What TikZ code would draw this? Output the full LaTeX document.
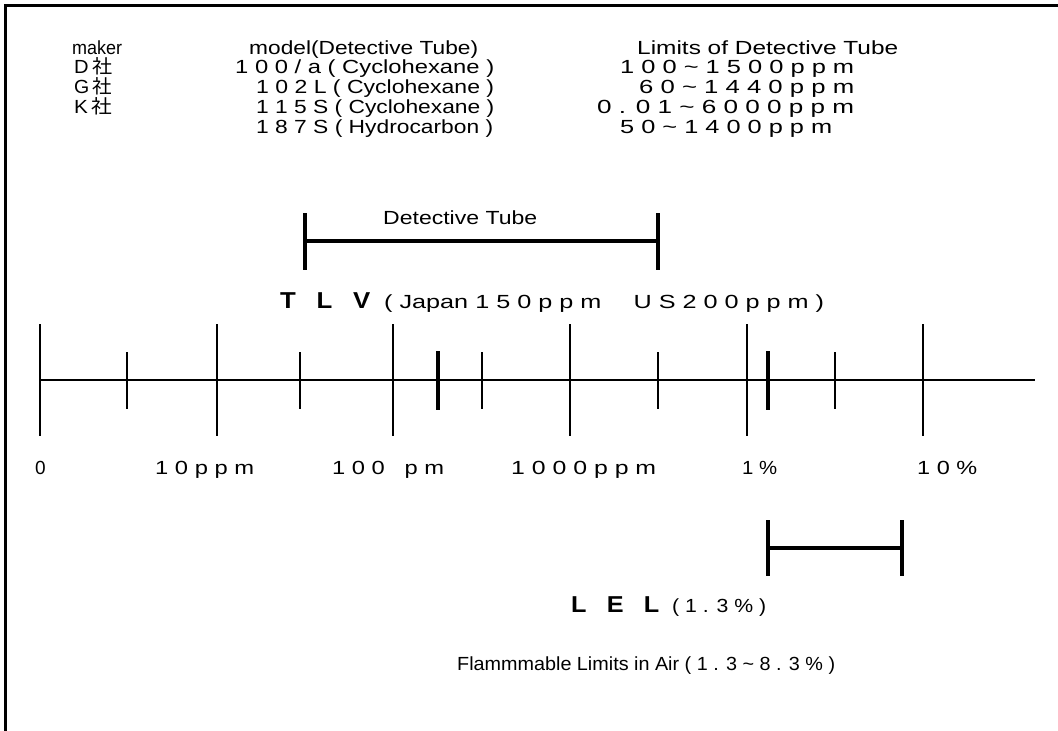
\documentclass[tikz,border=0pt]{standalone}
\usepackage{fontspec}
\usepackage{graphicx}
\setmainfont{Liberation Sans}
\newfontfamily\cjk{Noto Sans CJK JP}
\newcommand{\fw}[2]{\resizebox{#1pt}{\height}{#2}}
\newcommand{\tld}{\textasciitilde}
\begin{document}
\begin{tikzpicture}[x=1pt,y=-1pt,
  txt/.style={inner sep=0pt,anchor=base west,font=\fontsize{19}{19}\selectfont},
  big/.style={inner sep=0pt,anchor=base west,font=\fontsize{23}{23}\selectfont\bfseries},
  axisline/.style={line width=2.5pt},
  majortick/.style={line width=2.5pt},
  minortick/.style={line width=2.5pt},
  thicktick/.style={line width=4.5pt},
  bracket/.style={line width=4pt},
  frameline/.style={line width=3pt}]
\useasboundingbox (0,0) rectangle (1058,731);
% frame
\coordinate (fTL) at (5,5);
\coordinate (fTR) at (1058,5);
\coordinate (fBL) at (5,731);
\draw[frameline] (fTR) -- (fTL) -- (fBL);
% header table
\node[txt] (hmaker) at (72,54) {\fw{50}{maker}};
\node[txt] (hmodel) at (249,54) {\fw{229}{model(Detective Tube)}};
\node[txt] (hlim) at (637,54) {\fw{261}{Limits of Detective Tube}};
\node[txt] (mkD) at (74,73) {\fw{38}{D\,{\cjk 社}}};
\node[txt] (mkG) at (74,93) {\fw{38}{G\,{\cjk 社}}};
\node[txt] (mkK) at (74,113) {\fw{38}{K\,{\cjk 社}}};
\node[txt] (md1) at (235,73) {\fw{259}{1 0 0 / a ( Cyclohexane )}};
\node[txt] (md2) at (256,93) {\fw{238}{1 0 2 L ( Cyclohexane )}};
\node[txt] (md3) at (256,113) {\fw{238}{1 1 5 S ( Cyclohexane )}};
\node[txt] (md4) at (256,133) {\fw{237}{1 8 7 S ( Hydrocarbon )}};
\node[txt] (lm1) at (620,73) {\fw{234}{1 0 0 \tld{} 1 5 0 0 p p m}};
\node[txt] (lm2) at (639,93) {\fw{215}{6 0 \tld{} 1 4 4 0 p p m}};
\node[txt] (lm3) at (597,113) {\fw{257}{0 . 0 1 \tld{} 6 0 0 0 p p m}};
\node[txt] (lm4) at (620,133) {\fw{212}{5 0 \tld{} 1 4 0 0 p p m}};
% detective tube bracket
\coordinate (dtL) at (305,241);
\coordinate (dtR) at (658,241);
\coordinate (dtLt) at (305,213);
\coordinate (dtLb) at (305,270);
\coordinate (dtRt) at (658,213);
\coordinate (dtRb) at (658,270);
\draw[bracket] (dtL) -- (dtR);
\draw[bracket] (dtLt) -- (dtLb);
\draw[bracket] (dtRt) -- (dtRb);
\node[txt] (dtlabel) at (383,224) {\fw{154}{Detective Tube}};
% TLV
\node[big] (tlv) at (280,308) {\fw{90}{T\hspace{0.8em}L\hspace{0.8em}V}};
\node[txt] (tlvval) at (384,308) {\fw{440}{( Japan 1 5 0 p p m \quad U S 2 0 0 p p m )}};
% axis
\coordinate (axL) at (40,380);
\coordinate (axR) at (1035,380);
\draw[axisline] (axL) -- (axR);
\foreach \xx in {40,217,393,570,747,923}{
  \draw[majortick] (\xx,324) -- (\xx,436);}
\foreach \xx in {127,300,482,658,835}{
  \draw[minortick] (\xx,352) -- (\xx,409);}
\foreach \xx in {438,768}{
  \draw[thicktick] (\xx,351) -- (\xx,410);}
% axis labels
\node[txt] (l0) at (35,474) {0};
\node[txt] (l10) at (155,474) {\fw{99}{1 0 p p m}};
\node[txt] (l100) at (332,474) {\fw{112}{1 0 0 \ \ p m}};
\node[txt] (l1000) at (511,474) {\fw{145}{1 0 0 0 p p m}};
\node[txt] (l1p) at (742,474) {\fw{35}{1 \%}};
\node[txt] (l10p) at (917,474) {\fw{60}{1 0 \%}};
% LEL bracket
\coordinate (lbL) at (768,548);
\coordinate (lbR) at (902,548);
\coordinate (lbLt) at (768,520);
\coordinate (lbLb) at (768,576);
\coordinate (lbRt) at (902,520);
\coordinate (lbRb) at (902,576);
\draw[bracket] (lbL) -- (lbR);
\draw[bracket] (lbLt) -- (lbLb);
\draw[bracket] (lbRt) -- (lbRb);
\node[big] (lel) at (571,612) {\fw{88}{L\hspace{0.8em}E\hspace{0.8em}L}};
\node[txt] (lelval) at (672,612) {\fw{94}{( 1 . 3 \% )}};
\node[txt] (flam) at (457,670) {\fw{378}{Flammmable Limits in Air ( 1 . 3 \tld{} 8 . 3 \% )}};
\end{tikzpicture}
\end{document}
